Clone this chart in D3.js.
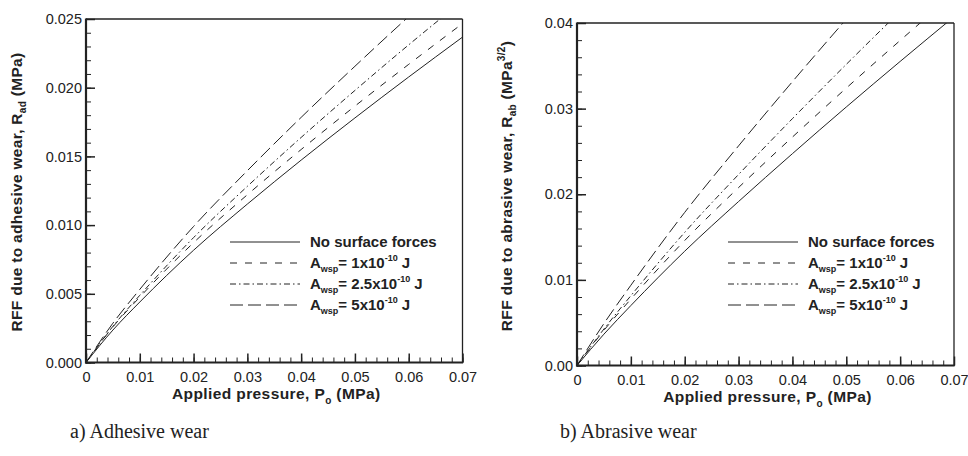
<!DOCTYPE html>
<html>
<head>
<meta charset="utf-8">
<script src="https://cdn.jsdelivr.net/npm/d3@7"></script>
<style>
  html, body { margin: 0; padding: 0; background: #fff; }
  svg text { fill: #222; }
</style>
</head>
<body>
<svg id="chart" width="968" height="456"></svg>
<script>
// Applied pressure samples (MPa)
const pressure = [0, 0.005, 0.01, 0.02, 0.03, 0.04, 0.05, 0.06, 0.07];

// a) Adhesive wear, R_ad (MPa)
const adNoForces = [0, 0.00236, 0.00440, 0.00817, 0.01153, 0.01473, 0.01780, 0.02078, 0.02368];
const adA1 =       [0, 0.00259, 0.00476, 0.00872, 0.01221, 0.01550, 0.01866, 0.02170, 0.02467];
const adA25 =      [0, 0.00263, 0.00489, 0.00909, 0.01282, 0.01638, 0.01980, 0.02312, 0.02632];
const adA5 =       [0, 0.00286, 0.00532, 0.00990, 0.01396, 0.01784, 0.02156, 0.02518, 0.02869];

// b) Abrasive wear, R_ab (MPa^3/2)
const abNoForces = [0, 0.00366, 0.00700, 0.01335, 0.01915, 0.02474, 0.03019, 0.03551, 0.04073];
const abA1 =       [0, 0.00411, 0.00775, 0.01460, 0.02078, 0.02668, 0.03240, 0.03796, 0.04342];
const abA25 =      [0, 0.00426, 0.00815, 0.01555, 0.02231, 0.02883, 0.03517, 0.04136, 0.04745];
const abA5 =       [0, 0.00490, 0.00937, 0.01788, 0.02565, 0.03315, 0.04044, 0.04757, 0.05455];

const xTicks = [0, 0.01, 0.02, 0.03, 0.04, 0.05, 0.06, 0.07];
const xTickLabels = ["0", "0.01", "0.02", "0.03", "0.04", "0.05", "0.06", "0.07"];
const adYTicks = [0, 0.005, 0.010, 0.015, 0.020, 0.025];
const adYTickLabels = ["0.000", "0.005", "0.010", "0.015", "0.020", "0.025"];
const abYTicks = [0, 0.01, 0.02, 0.03, 0.04];
const abYTickLabels = ["0.00", "0.01", "0.02", "0.03", "0.04"];

const seriesNames = ["none", "a1", "a25", "a5"];
const dashes = { none: null, a1: "7,8", a25: "6,3,1.5,3", a5: "13,5" };

const svg = d3.select("#chart");
const INK = "#222";
const SANS = "Liberation Sans, Arial, sans-serif";

function panel(opt) {
  const g = svg.append("g");
  const x = d3.scaleLinear().domain([0, 0.07]).range([opt.left, opt.right]);
  const y = d3.scaleLinear().domain([0, opt.yMax]).range([opt.bottom, opt.top]);

  const clipId = "clip-" + opt.id;
  svg.append("clipPath").attr("id", clipId)
    .append("rect")
    .attr("x", opt.left).attr("y", opt.top)
    .attr("width", opt.right - opt.left).attr("height", opt.bottom - opt.top);

  // curves
  const line = d3.line()
    .x(d => x(d[0])).y(d => y(d[1]))
    .curve(d3.curveMonotoneX);
  const curves = g.append("g").attr("clip-path", `url(#${clipId})`);
  opt.series.forEach((vals, i) => {
    curves.append("path")
      .datum(pressure.map((p, j) => [p, vals[j]]))
      .attr("d", line)
      .attr("fill", "none")
      .attr("stroke", INK)
      .attr("stroke-width", 1)
      .attr("stroke-dasharray", dashes[seriesNames[i]]);
  });

  // minor ticks (inward)
  const xMinor = d3.range(0, 0.0701, 0.002);
  const yMinor = d3.range(0, opt.yMax + 1e-9, opt.yMinorStep);
  g.append("g").attr("transform", `translate(0,${opt.bottom})`)
    .call(d3.axisTop(x).tickValues(xMinor).tickSize(5).tickFormat(""))
    .call(a => a.select(".domain").remove())
    .call(a => a.selectAll("line").attr("stroke", INK).attr("stroke-width", 1));
  g.append("g").attr("transform", `translate(${opt.left},0)`)
    .call(d3.axisRight(y).tickValues(yMinor).tickSize(5).tickFormat(""))
    .call(a => a.select(".domain").remove())
    .call(a => a.selectAll("line").attr("stroke", INK).attr("stroke-width", 1));

  // major ticks (inward) with labels outside
  const xAxis = g.append("g").attr("transform", `translate(0,${opt.bottom})`)
    .call(d3.axisTop(x).tickValues(xTicks).tickSize(9).tickFormat((d, i) => xTickLabels[i]));
  xAxis.select(".domain").remove();
  xAxis.selectAll("line").attr("stroke", INK).attr("stroke-width", 1.5);
  xAxis.selectAll("text")
    .attr("y", 19).attr("dy", "0em")
    .attr("font-family", SANS)
    .attr("font-size", 14.5).attr("fill", "#333");

  const yAxis = g.append("g").attr("transform", `translate(${opt.left},0)`)
    .call(d3.axisRight(y).tickValues(opt.yTicks).tickSize(9).tickFormat((d, i) => opt.yTickLabels[i]));
  yAxis.select(".domain").remove();
  yAxis.selectAll("line").attr("stroke", INK).attr("stroke-width", 1.5);
  yAxis.selectAll("text")
    .attr("x", -4).attr("text-anchor", "end").attr("dy", "0.32em")
    .attr("font-family", SANS)
    .attr("font-size", 14.5).attr("fill", "#333");

  // frame
  g.append("line").attr("x1", opt.left).attr("x2", opt.right).attr("y1", opt.top).attr("y2", opt.top)
    .attr("stroke", INK).attr("stroke-width", 1.3);
  g.append("line").attr("x1", opt.right).attr("x2", opt.right).attr("y1", opt.top).attr("y2", opt.bottom)
    .attr("stroke", INK).attr("stroke-width", 1.3);
  g.append("line").attr("x1", opt.left).attr("x2", opt.left).attr("y1", opt.top - 0.6).attr("y2", opt.bottom + 1)
    .attr("stroke", INK).attr("stroke-width", 2.2);
  g.append("line").attr("x1", opt.left - 1).attr("x2", opt.right + 0.6).attr("y1", opt.bottom).attr("y2", opt.bottom)
    .attr("stroke", INK).attr("stroke-width", 2.2);

  // x title
  const xt = g.append("text")
    .attr("x", (opt.left + opt.right) / 2 + 2).attr("y", opt.bottom + 36)
    .attr("text-anchor", "middle")
    .attr("font-family", SANS).attr("font-weight", "bold").attr("font-size", 15.5)
    .attr("letter-spacing", 0.4);
  xt.append("tspan").text("Applied pressure, P");
  xt.append("tspan").attr("font-size", 10).attr("dy", 5).text("o");
  xt.append("tspan").attr("dy", -5).text(" (MPa)");

  // y title
  const yt = g.append("text")
    .attr("transform", `translate(${opt.yTitleX},${opt.yTitleY}) rotate(-90)`)
    .attr("text-anchor", "middle")
    .attr("font-family", SANS).attr("font-weight", "bold").attr("font-size", 15.5)
    .attr("letter-spacing", 0.3);
  yt.append("tspan").text(opt.yTitle);
  yt.append("tspan").attr("font-size", 10).attr("dy", 4).text(opt.yTitleSub);
  if (opt.yTitleSup) {
    yt.append("tspan").attr("dy", -4).text(" (MPa");
    yt.append("tspan").attr("font-size", 10).attr("dy", -7).text(opt.yTitleSup);
    yt.append("tspan").attr("dy", 7).text(")");
  } else {
    yt.append("tspan").attr("dy", -4).text(" (MPa)");
  }

  // legend
  const labels = [
    { main: "No surface forces" },
    { sub: "wsp", rest: "= 1x10", sup: "-10", tail: " J" },
    { sub: "wsp", rest: "= 2.5x10", sup: "-10", tail: " J" },
    { sub: "wsp", rest: "= 5x10", sup: "-10", tail: " J" }
  ];
  labels.forEach((lab, i) => {
    const yy = opt.legY + i * opt.legStep;
    g.append("line")
      .attr("x1", opt.legX).attr("x2", opt.legX + 70)
      .attr("y1", yy).attr("y2", yy)
      .attr("stroke", INK).attr("stroke-width", 1)
      .attr("stroke-dasharray", dashes[seriesNames[i]]);
    const t = g.append("text")
      .attr("x", opt.legX + 80).attr("y", yy + 5)
      .attr("font-family", SANS).attr("font-weight", "bold").attr("font-size", 15);
    if (lab.main) {
      t.text(lab.main);
    } else {
      t.append("tspan").text("A");
      t.append("tspan").attr("font-size", 9).attr("dy", 4).text(lab.sub);
      t.append("tspan").attr("dy", -4).text(lab.rest);
      t.append("tspan").attr("font-size", 9).attr("dy", -7).text(lab.sup);
      t.append("tspan").attr("dy", 7).text(lab.tail);
    }
  });

  // caption
  svg.append("text")
    .attr("x", opt.capX).attr("y", 438)
    .attr("font-family", "Liberation Serif, Times New Roman, serif")
    .attr("font-size", 20).attr("fill", "#222")
    .text(opt.caption);
}

panel({
  id: "ad", left: 86, right: 462.5, top: 19, bottom: 362.5,
  yMax: 0.025, yTicks: adYTicks, yTickLabels: adYTickLabels, yMinorStep: 0.001,
  series: [adNoForces, adA1, adA25, adA5],
  yTitle: "RFF due to adhesive wear, R", yTitleSub: "ad", yTitleSup: null,
  yTitleX: 22, yTitleY: 192,
  legX: 230, legY: 242, legStep: 21,
  caption: "a) Adhesive wear", capX: 70
});

panel({
  id: "ab", left: 577, right: 954, top: 23, bottom: 365.5,
  yMax: 0.04, yTicks: abYTicks, yTickLabels: abYTickLabels, yMinorStep: 0.002,
  series: [abNoForces, abA1, abA25, abA5],
  yTitle: "RFF due to abrasive wear, R", yTitleSub: "ab", yTitleSup: "3/2",
  yTitleX: 512, yTitleY: 186,
  legX: 728, legY: 242, legStep: 21,
  caption: "b) Abrasive wear", capX: 560
});
</script>
</body>
</html>
